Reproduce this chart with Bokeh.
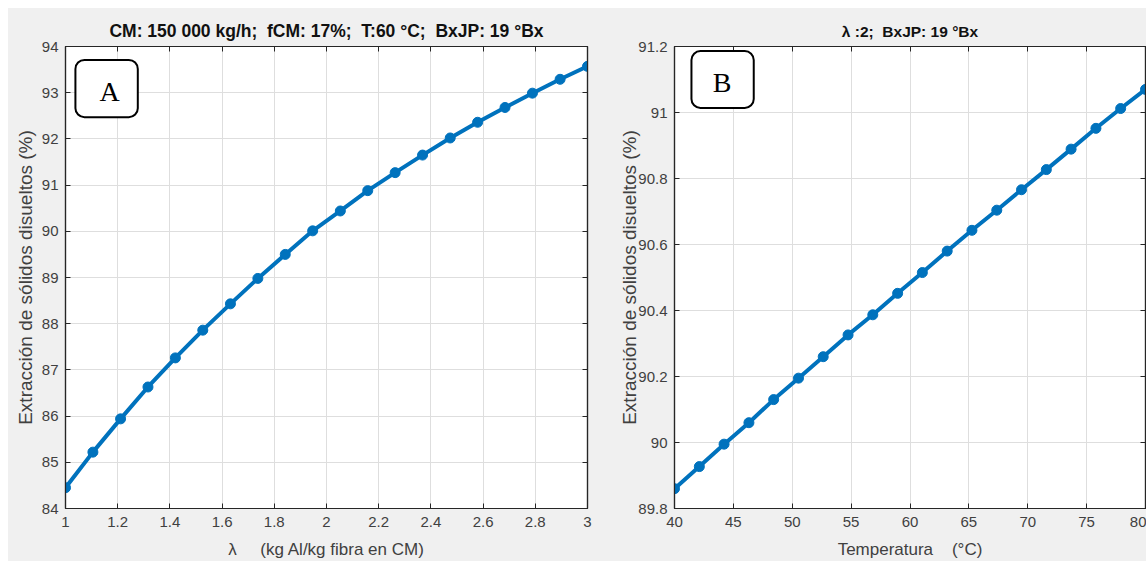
from bokeh.plotting import figure
from bokeh.layouts import row
from bokeh.models import (LinearAxis, FixedTicker, BoxAnnotation, Label, Range1d,
                          CustomLabelingPolicy)
from bokeh.embed import file_html
from bokeh.resources import INLINE

# ---------------- data ----------------
lambda_a = [1.0, 1.105, 1.211, 1.316, 1.421, 1.526, 1.632, 1.737, 1.842, 1.947,
            2.053, 2.158, 2.263, 2.368, 2.474, 2.579, 2.684, 2.789, 2.895, 3.0]
extr_a = [84.45, 85.22, 85.94, 86.63, 87.26, 87.86, 88.43, 88.98, 89.50, 90.01,
          90.44, 90.88, 91.27, 91.65, 92.02, 92.36, 92.68, 92.99, 93.29, 93.57]

temp_b = [40.0, 42.11, 44.21, 46.32, 48.42, 50.53, 52.63, 54.74, 56.84, 58.95,
          61.05, 63.16, 65.26, 67.37, 69.47, 71.58, 73.68, 75.79, 77.89, 80.0]
extr_b = [89.86, 89.927, 89.995, 90.06, 90.13, 90.195, 90.26, 90.326, 90.387, 90.452,
          90.515, 90.58, 90.643, 90.704, 90.766, 90.827, 90.889, 90.952, 91.012, 91.07]

xticks_a = [1.0, 1.2, 1.4, 1.6, 1.8, 2.0, 2.2, 2.4, 2.6, 2.8, 3.0]
xlabels_a = ["1", "1.2", "1.4", "1.6", "1.8", "2", "2.2", "2.4", "2.6", "2.8", "3"]
yticks_a = [84, 85, 86, 87, 88, 89, 90, 91, 92, 93, 94]
ylabels_a = ["84", "85", "86", "87", "88", "89", "90", "91", "92", "93", "94"]

xticks_b = [40, 45, 50, 55, 60, 65, 70, 75, 80]
xlabels_b = ["40", "45", "50", "55", "60", "65", "70", "75", "80"]
yticks_b = [89.8, 90.0, 90.2, 90.4, 90.6, 90.8, 91.0, 91.2]
ylabels_b = ["89.8", "90", "90.2", "90.4", "90.6", "90.8", "91", "91.2"]

NB = "\u00a0"
title_a = f"CM: 150 000 kg/h;{NB} fCM: 17%;{NB} T:60 °C;{NB} BxJP: 19 °Bx"
title_b = f"λ :2;{NB} BxJP: 19 °Bx"
xlabel_a = f"λ{NB*4} (kg Al/kg fibra en CM)"
xlabel_b = f"Temperatura{NB*3} (°C)"
ylabel = "Extracción de sólidos disueltos (%)"

# ---------------- style ----------------
BG = "#f0f0f0"
AX = "#262626"
TICK_TXT = "#404040"
GRID = "#dedede"
BLUE = "#0072BD"
SANS = "Liberation Sans"
SERIF = "Liberation Serif"

HIDE_ALL = CustomLabelingPolicy(code="""
    for (const i of [...indices]) indices.unset(i)
    return indices
""")


def panel(width, height, borders, xr, yr, xt, xl, yt, yl, title, title_size, title_standoff,
          xlab, ylab, ylab_standoff, xs, ys, box, letter, letter_pos):
    p = figure(width=width, height=height, output_backend="svg", toolbar_location=None,
               x_range=Range1d(*xr), y_range=Range1d(*yr),
               min_border_left=borders[0], min_border_right=borders[1],
               min_border_top=borders[2], min_border_bottom=borders[3])
    p.border_fill_color = BG
    p.background_fill_color = "white"
    p.outline_line_color = AX
    p.outline_line_width = 1.2

    p.title.text = title
    p.title.align = "center"
    p.title.text_font = SANS
    p.title.text_font_size = title_size
    p.title.text_font_style = "bold"
    p.title.text_color = "#111111"
    p.title.standoff = title_standoff

    for ax, ticks, labels, lab in ((p.xaxis[0], xt, xl, xlab), (p.yaxis[0], yt, yl, ylab)):
        ax.ticker = FixedTicker(ticks=ticks)
        ax.major_label_overrides = dict(zip(ticks, labels))
        ax.minor_tick_line_color = None
        ax.major_tick_in = 5
        ax.major_tick_out = 0
        ax.major_tick_line_color = AX
        ax.axis_line_color = AX
        ax.axis_line_width = 1.2
        ax.major_label_text_font = SANS
        ax.major_label_text_font_size = "15px"
        ax.major_label_text_color = TICK_TXT
        ax.axis_label = lab
        ax.axis_label_text_font = SANS
        ax.axis_label_text_font_style = "normal"
        ax.axis_label_text_color = TICK_TXT
    p.xaxis.major_label_standoff = 8
    p.xaxis.axis_label_standoff = 10
    p.xaxis.axis_label_text_font_size = "17px"
    p.yaxis.major_label_standoff = 7
    p.yaxis.axis_label_standoff = ylab_standoff
    p.yaxis.axis_label_text_font_size = "19px"

    for loc, ticks in (("above", xt), ("right", yt)):
        ax2 = LinearAxis(ticker=FixedTicker(ticks=ticks), major_label_text_font_size="0px",
                         major_label_policy=HIDE_ALL,
                         major_label_standoff=0, major_tick_in=5, major_tick_out=0,
                         minor_tick_line_color=None, major_tick_line_color=AX,
                         axis_line_color=AX, axis_line_width=1.2)
        p.add_layout(ax2, loc)

    p.xgrid.ticker = FixedTicker(ticks=xt)
    p.ygrid.ticker = FixedTicker(ticks=yt)
    p.grid.grid_line_color = GRID
    p.grid.grid_line_width = 1

    p.line(xs, ys, line_color=BLUE, line_width=4, line_join="round")
    p.scatter(xs, ys, size=10, fill_color=BLUE, line_color=BLUE)

    p.add_layout(BoxAnnotation(left=box[0], right=box[1], bottom=box[2], top=box[3],
                               fill_color="white", fill_alpha=1.0, line_color="black",
                               line_width=2, line_alpha=1.0, border_radius=9))
    p.add_layout(Label(x=letter_pos[0], y=letter_pos[1], text=letter, text_font=SERIF,
                       text_font_size="28px", text_color="black", text_align="center",
                       text_baseline="middle"))
    return p


pa = panel(592, 553, (57, 13, 38, 53), (1, 3), (84, 94),
           xticks_a, xlabels_a, yticks_a, ylabels_a, title_a, "17.5px", 12,
           xlabel_a, ylabel, 3,
           lambda_a, extr_a, (1.038, 1.277, 92.47, 93.71), "A", (1.169, 93.03))

pb = panel(546, 553, (74, 1, 38, 53), (40, 80), (89.8, 91.2),
           xticks_b, xlabels_b, yticks_b, ylabels_b, title_b, "15.5px", 14,
           xlabel_b, ylabel, -5,
           temp_b, extr_b, (41.44, 46.73, 91.014, 91.186), "B", (44.05, 91.092))

layout = row(pa, pb, spacing=0, margin=(8, 0, 0, 8), styles={"background-color": BG})

open("out.html", "w").write(file_html(layout, INLINE))
